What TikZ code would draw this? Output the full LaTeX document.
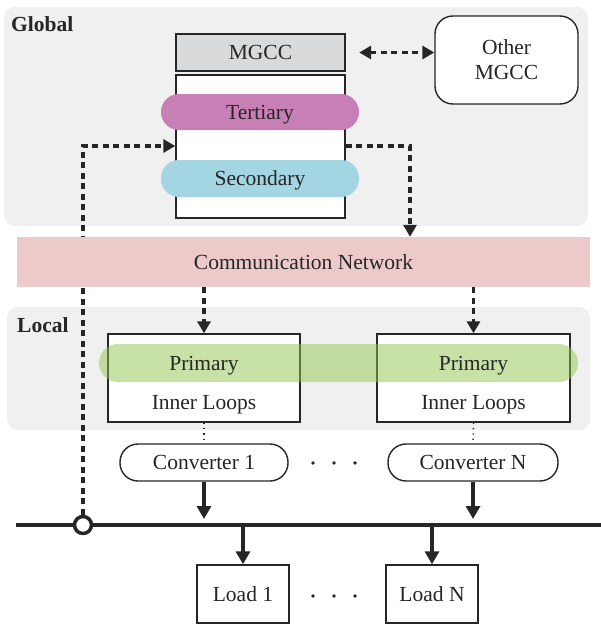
\documentclass[tikz,border=0pt]{standalone}
\usepackage{fontspec}
\setmainfont{Liberation Serif}
\usetikzlibrary{arrows.meta}
\definecolor{bgg}{RGB}{240,240,240}
\definecolor{mgccfill}{RGB}{217,218,219}
\definecolor{tertc}{RGB}{200,127,182}
\definecolor{secc}{RGB}{163,213,226}
\definecolor{commc}{RGB}{236,202,202}
\definecolor{primc}{RGB}{145,197,81}
\tikzset{
  txt/.style={font=\fontsize{21.5}{25}\selectfont, text=black!85, text height=14pt, text depth=0pt},
  region/.style={fill=bgg, draw=none, rounded corners=11pt},
  plainbox/.style={draw=black!85, line width=1.4pt, fill=white, inner sep=0pt, txt},
  pill/.style={draw=none, rounded corners=18pt, inner sep=0pt, txt},
  dasharr/.style={line width=3.8pt, dash pattern=on 6pt off 4.5pt, draw=black!85, -{Triangle[length=12pt,width=13pt]}},
  thickarr/.style={line width=3.8pt, draw=black!85, -{Triangle[length=13pt,width=14pt]}},
  dotline/.style={line width=1.3pt, draw=black!85, dash pattern=on 1.3pt off 4pt},
  regionlabel/.style={font=\fontsize{21.5}{25}\selectfont\bfseries, text=black!85, anchor=west, inner sep=0pt},
  dotmark/.style={circle, fill=black!85, inner sep=0pt, minimum size=3.6pt}
}
\begin{document}
\begin{tikzpicture}[x=1pt,y=-1pt]
\useasboundingbox (0,0) rectangle (601,624);
% Global region
\path[region] (4,7) rectangle (588,226);
\node[regionlabel] (glab) at (11,24) {Global};
% MGCC
\node[plainbox, fill=mgccfill, minimum width=169pt, minimum height=37pt] (mgcc) at (260.5,52.5) {MGCC};
\node[plainbox, minimum width=169pt, minimum height=143pt] (ctrl) at (260.5,146.5) {};
\node[pill, fill=tertc, minimum width=198pt, minimum height=36pt] (tert) at (260,112) {Tertiary};
\node[pill, fill=secc, minimum width=198pt, minimum height=37pt] (sec) at (260,178.5) {Secondary};
\node[plainbox, rounded corners=18pt, minimum width=143pt, minimum height=88pt] (other) at (506.5,60) {};
\node[txt] (oth1) at (506.5,47) {Other};
\node[txt] (oth2) at (506.5,72) {MGCC};
\draw[dasharr, {Triangle[length=12pt,width=13pt]}-{Triangle[length=12pt,width=13pt]}] (mgcc.east -| tert.east) -- (other.west |- mgcc.east);
% Local region
\path[region] (7,307) rectangle (590,430);
\node[regionlabel] (llab) at (17,325) {Local};
\node[plainbox, minimum width=192pt, minimum height=88pt] (box1) at (204,378) {};
\node[plainbox, minimum width=193pt, minimum height=88pt] (boxN) at (473.5,378) {};
\fill[primc, opacity=0.5, rounded corners=19pt] (99,344) rectangle (578,382);
\node[txt] (prim1) at (204,363) {Primary};
\node[txt] (primN) at (473.5,363) {Primary};
\node[txt] (inner1) at (204,402) {Inner Loops};
\node[txt] (innerN) at (473.5,402) {Inner Loops};
% Converters
\node[plainbox, rounded corners=18pt, minimum width=168pt, minimum height=37pt] (conv1) at (204,462.5) {Converter 1};
\node[plainbox, rounded corners=18pt, minimum width=170pt, minimum height=37pt] (convN) at (473,462.5) {Converter N};
\node[dotmark] (cd1) at (313,463) {};
\node[dotmark] (cd2) at (334,463) {};
\node[dotmark] (cd3) at (355,463) {};
% Loads
\node[plainbox, minimum width=92pt, minimum height=58pt] (load1) at (243,594) {Load 1};
\node[plainbox, minimum width=92pt, minimum height=58pt] (loadN) at (432,594) {Load N};
\node[dotmark] (ld1) at (313,596) {};
\node[dotmark] (ld2) at (334,596) {};
\node[dotmark] (ld3) at (355,596) {};
% Bus
\coordinate (busL) at (16,525);
\coordinate (busR) at (601,525);
\draw[line width=4.4pt, black!85] (busL) -- (busR);
\node[circle, draw=black!85, line width=3.5pt, fill=white, minimum size=17pt, inner sep=0pt] (meas) at (83,525) {};
% dashed measurement path (hidden behind the communication network)
\coordinate (lturn) at (83,146);
\draw[dasharr] (meas.north) -- (lturn) -- (lturn -| ctrl.west);
% Communication network
\node[txt, fill=commc, minimum width=573pt, minimum height=50pt, inner sep=0pt] (comm) at (303.5,262) {Communication Network};
% other dashed control paths
\coordinate (rturn) at (410,146);
\draw[dasharr] (rturn -| ctrl.east) -- (rturn) -- (rturn |- comm.north);
\draw[dasharr] (comm.south -| box1.north) -- (box1.north);
\draw[dasharr] (comm.south -| boxN.north) -- (boxN.north);
% dotted links
\draw[dotline] (box1.south) -- (conv1.north);
\draw[dotline] (boxN.south) -- (convN.north);
% power arrows
\coordinate (bustop) at (0,519);
\draw[thickarr] (conv1.south) -- (conv1.south |- bustop);
\draw[thickarr] (convN.south) -- (convN.south |- bustop);
\draw[thickarr] (load1.north |- busL) -- (load1.north);
\draw[thickarr] (loadN.north |- busL) -- (loadN.north);
\end{tikzpicture}
\end{document}
